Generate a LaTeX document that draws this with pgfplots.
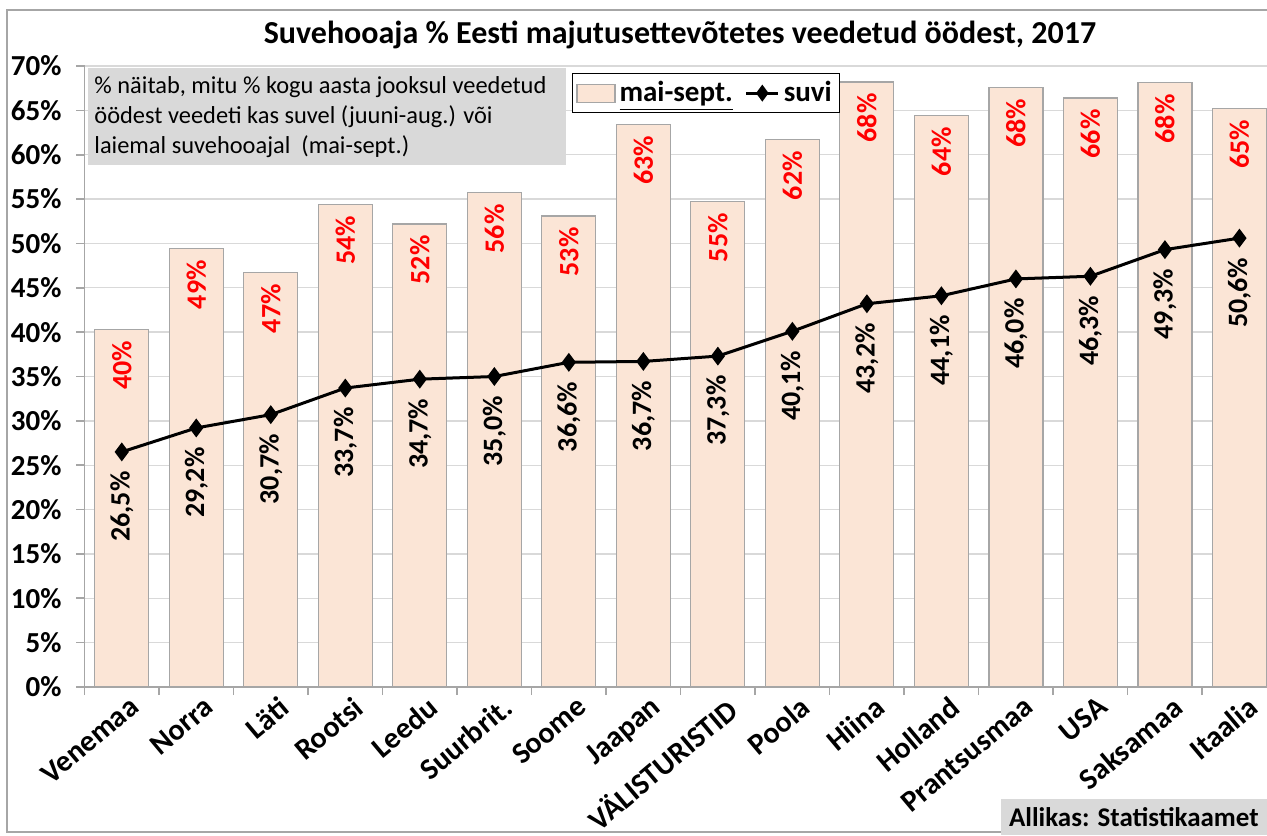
\documentclass[border=0pt]{standalone}
\usepackage{pgfplots}
\pgfplotsset{compat=1.18}
\usepackage{pgfplotstable}
\usepackage{fontspec}
\setmainfont{Carlito}
\definecolor{barfill}{HTML}{FBE5D6}
\definecolor{bardraw}{HTML}{A6A6A6}
\definecolor{gridc}{HTML}{D9D9D9}
\definecolor{boxc}{HTML}{D9D9D9}
\definecolor{axc}{HTML}{A6A6A6}
\definecolor{lblred}{HTML}{FF0000}

\pgfplotstableread{
x mai suvi
0 40.3 26.5
1 49.4 29.2
2 46.7 30.7
3 54.4 33.7
4 52.2 34.7
5 55.7 35.0
6 53.1 36.6
7 63.4 36.7
8 54.7 37.3
9 61.7 40.1
10 68.2 43.2
11 64.4 44.1
12 67.6 46.0
13 66.4 46.3
14 68.1 49.3
15 65.2 50.6
}\data

\begin{document}
\begin{tikzpicture}
\useasboundingbox (-42.25pt,-74pt) rectangle (591.25pt,343.5pt);
\draw[axc, line width=0.8pt] (620pt,338.5pt) -| (-38.75pt,-72.5pt) -- (620pt,-72.5pt);
\begin{axis}[
  scale only axis, width=591.25pt, height=310.5pt,
  at={(0,0)}, anchor=south west,
  xmin=-0.5, xmax=15.37, ymin=0, ymax=70,
  axis x line*=bottom, axis y line*=left,
  axis line style={axc, line width=0.8pt, -},
  tick align=outside,
  major tick length=4pt,
  tick style={axc, line width=0.8pt},
  ytick={0,5,...,70},
  yticklabel={\pgfmathprintnumber{\tick}\%},
  /pgf/number format/assume math mode=true,
  yticklabel style={font=\bfseries\fontsize{14.5}{16}\selectfont, xshift=-4pt},
  ymajorgrids, grid style={gridc, line width=0.7pt},
  xtick={-0.5,0.5,...,14.5},
  xticklabels={},
  extra x ticks={0,1,...,15},
  extra x tick labels={Venemaa,Norra,Läti,Rootsi,Leedu,Suurbrit.,Soome,Jaapan,VÄLISTURISTID,Poola,Hiina,Holland,Prantsusmaa,USA,Saksamaa,Itaalia},
  extra x tick style={major tick length=0pt},
  xticklabel style={rotate=40, anchor=north east, font=\bfseries\fontsize{15}{17}\selectfont, inner sep=1pt, yshift=-4pt, xshift=1pt},
  legend style={at={(0.412,0.989)}, anchor=north west, draw=black, line width=0.6pt,
    legend columns=2, font=\bfseries\fontsize{14.5}{16}\selectfont,
    /tikz/every even column/.append style={column sep=4pt}, inner sep=2pt},
  legend cell align=left,
]
\addplot[ybar, bar width=27pt, fill=barfill, draw=bardraw, line width=0.6pt,
  area legend,
  legend image code/.code={\draw[fill=barfill, draw=bardraw] (0pt,-4.5pt) rectangle (19pt,4.5pt);},
  nodes near coords={\pgfmathprintnumber[fixed,precision=0]{\pgfplotspointmeta}\%},
  nodes near coords style={yshift=-5.5pt, rotate=90, anchor=east, inner sep=0pt, text=lblred, font=\bfseries\fontsize{14}{16}\selectfont}
] table[x=x,y=mai]{\data};
\addlegendentry{\underline{mai-sept.}}
\addplot[black, line width=1.5pt, mark=diamond*, mark size=3.5pt,
  legend image code/.code={\draw[black, line width=1.5pt] (0pt,0pt) -- (16pt,0pt); \fill (8pt,0pt) +(0,3pt) -- +(2.2pt,0) -- +(0,-3pt) -- +(-2.2pt,0) -- cycle;},
  nodes near coords={\pgfmathprintnumber[fixed,fixed zerofill,precision=1,use comma]{\pgfplotspointmeta}\%},
  nodes near coords style={yshift=-9pt, rotate=90, anchor=east, inner sep=0pt, text=black, font=\bfseries\fontsize{14}{16}\selectfont}
] table[x=x,y=suvi]{\data};
\addlegendentry{suvi}
\node[anchor=north west, fill=boxc, inner xsep=3pt, inner ysep=4pt, font=\fontsize{12.2}{15}\selectfont] at (rel axis cs:0.003,0.997) {\begin{minipage}{233pt}\mbox{\% näitab, mitu \% kogu aasta jooksul veedetud}\\ \mbox{öödest veedeti kas suvel (juuni-aug.) või}\\ \mbox{laiemal suvehooajal\ \ (mai-sept.)}\end{minipage}};
\end{axis}
\node[font=\bfseries\fontsize{16}{19}\selectfont] at (297.75pt,326pt) {Suvehooaja \% Eesti majutusettevõtetes veedetud öödest, 2017};
\node[anchor=south east, fill=boxc, font=\bfseries\fontsize{13.5}{16}\selectfont, inner sep=4pt, minimum height=17.5pt] at (591.25pt,-74pt) {Allikas: Statistikaamet};
\end{tikzpicture}
\end{document}
